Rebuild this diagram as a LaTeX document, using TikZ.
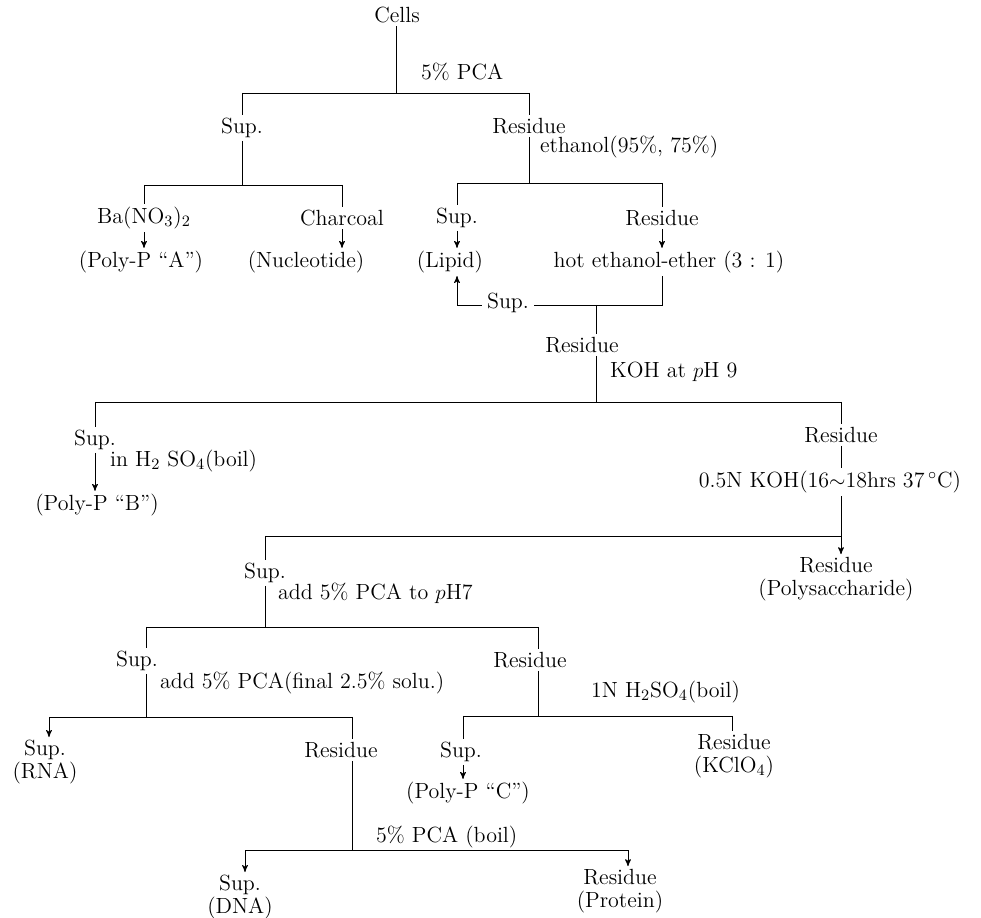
\documentclass[tikz,border=0pt]{standalone}
\usepackage{amsmath,amssymb}
\usepackage{tikz}
\usetikzlibrary{arrows}
\tikzset{
  every node/.style={font=\fontsize{12.5}{13}\selectfont, inner sep=1.5pt},
  lbl/.style={anchor=west},
  twoline/.style={align=center},
  >=stealth'
}
\begin{document}
\begin{tikzpicture}[x=0.02cm,y=-0.02cm,line width=0.5pt]
 \useasboundingbox (0,0) rectangle (981,918);
 \node (cells) at (397,15) {Cells};
 \node[lbl] (pcaA) at (418,72) {5\% PCA};
 \node (sup1) at (242,128) {Sup.};
 \node (res1) at (529,126) {Residue};
 \node[lbl] (eth) at (537,147) {ethanol(95\%, 75\%)};
 \node (ba) at (144,218) {Ba(NO$_3$)$_2$};
 \node (polyA) at (141,262) {(Poly-P ``A'')};
 \node (charc) at (342,218) {Charcoal};
 \node (nucl) at (306,262) {(Nucleotide)};
 \node (supL) at (457,218) {Sup.};
 \node (lipid) at (450,262) {(Lipid)};
 \node (resH) at (662,218) {Residue};
 \node (hot) at (669,262) {hot ethanol-ether (3 : 1)};
 \node (res2) at (582,345) {Residue};
 \node[lbl] (koh) at (607,372) {KOH at $p$H 9};
 \node (supB) at (95,440) {Sup.};
 \node[lbl] (hso) at (107,461) {in H$_2$ SO$_4$(boil)};
 \node (polyB) at (97,505) {(Poly-P ``B'')};
 \node (res3) at (841,435) {Residue};
 \node (kohB) at (830,482) {0.5N KOH(16$\sim$18hrs 37\,$^\circ$C)};
 \node[twoline] (polys) at (836,579) {Residue\\(Polysaccharide)};
 \node (supD) at (265,573) {Sup.};
 \node[lbl] (pcaB) at (275,593) {add 5\% PCA to $p$H7};
 \node (supR) at (137,661) {Sup.};
 \node[lbl] (pcaC) at (157,683) {add 5\% PCA(final 2.5\% solu.)};
 \node[twoline] (rna) at (45,762) {Sup.\\(RNA)};
 \node (resD) at (341,750) {Residue};
 \node[lbl] (pcaD) at (373,837) {5\% PCA (boil)};
 \node[twoline] (dna) at (240,897) {Sup.\\(DNA)};
 \node[twoline] (prot) at (620,891) {Residue\\(Protein)};
 \node (res4) at (530,660) {Residue};
 \node[lbl] (hsoB) at (588,692) {1N H$_2$SO$_4$(boil)};
 \node (supC) at (461,752) {Sup.};
 \node (polyC) at (468,793) {(Poly-P ``C'')};
 \node[twoline] (kcl) at (734,756) {Residue\\(KClO$_4$)};
 \coordinate (j1) at (396,93);
 \coordinate (j2) at (242,185);
 \coordinate (j3) at (529,183);
 \coordinate (kl) at (457,305);
 \coordinate (kr) at (662,305);
 \coordinate (j4) at (596,305);
 \coordinate (j5) at (596,402);
 \coordinate (j6) at (841,536);
 \coordinate (a1) at (146,627);
 \coordinate (a2) at (538,627);
 \coordinate (b0) at (49,717);
 \coordinate (b1) at (146,717);
 \coordinate (b2) at (352,717);
 \coordinate (c0) at (245,850);
 \coordinate (c2) at (628,850);
 \coordinate (d0) at (463,716);
 \coordinate (d2) at (732,716);
  \draw (cells.south -| j1) -- (j1);
  \draw (sup1.north |- j1) -- (res1.north |- j1);
  \draw (sup1.north |- j1) -- (sup1.north);
  \draw (res1.north |- j1) -- (res1.north);
  \draw (sup1.south) -- (j2);
  \draw (ba.north |- j2) -- (charc.north |- j2);
  \draw (ba.north |- j2) -- (ba.north);
  \draw (charc.north |- j2) -- (charc.north);
  \draw[->] (ba.south) -- (ba.south |- polyA.north);
  \draw[->] (charc.south) -- (charc.south |- nucl.north);
  \draw (res1.south) -- (j3);
  \draw (supL.north |- j3) -- (resH.north |- j3);
  \draw (supL.north |- j3) -- (supL.north);
  \draw (resH.north |- j3) -- (resH.north);
  \draw[->] (supL.south) -- (supL.south |- lipid.north);
  \draw[->] (resH.south) -- (resH.south |- hot.north);
  \draw (hot.south -| kr) -- (kr) -- (kl);
  \draw[->] (kl) -- (kl |- lipid.south);
  \node[fill=white, inner sep=3pt] (supK) at (508,303) {Sup.};
  \draw (j4) -- (j4 |- res2.north);
  \draw (res2.south -| j5) -- (j5);
  \draw (supB.north |- j5) -- (res3.north |- j5);
  \draw (supB.north |- j5) -- (supB.north);
  \draw (res3.north |- j5) -- (res3.north);
  \draw[->] (supB.south) -- (supB.south |- polyB.north);
  \draw (res3.south) -- (res3.south |- kohB.north);
  \draw (res3.south |- kohB.south) -- (j6);
  \draw (supD.north |- j6) -- (j6);
  \draw (supD.north |- j6) -- (supD.north);
  \draw[->] (j6) -- (j6 |- polys.north);
  \draw (supD.south) -- (supD.south |- a1);
  \draw (a1) -- (a2);
  \draw (a1) -- (a1 |- supR.north);
  \draw (a2) -- (a2 |- res4.north);
  \draw (supR.south -| b1) -- (b1);
  \draw (b0) -- (b2);
  \draw[->] (b0) -- (b0 |- rna.north);
  \draw (b2) -- (b2 |- resD.north);
  \draw (resD.south -| b2) -- (b2 |- c0);
  \draw (c0) -- (c2);
  \draw[->] (c0) -- (c0 |- dna.north);
  \draw[->] (c2) -- (c2 |- prot.north);
  \draw (res4.south -| a2) -- (a2 |- d0);
  \draw (d0) -- (d2);
  \draw (d0) -- (d0 |- supC.north);
  \draw (d2) -- (d2 |- kcl.north);
  \draw[->] (supC.south -| d0) -- (d0 |- polyC.north);
\end{tikzpicture}
\end{document}
